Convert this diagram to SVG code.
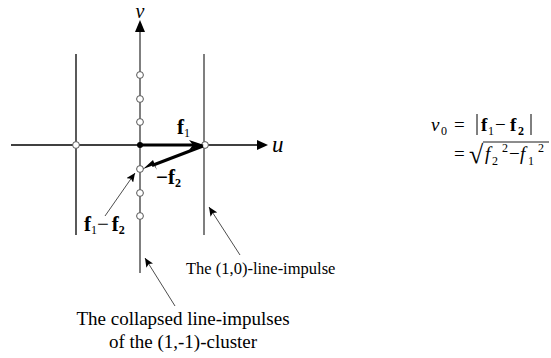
<svg xmlns="http://www.w3.org/2000/svg" width="551" height="358" viewBox="0 0 551 358">
<style>
.ax{stroke:#000;stroke-width:1.3;fill:none}
.gr{stroke:#555;stroke-width:1.5;fill:none}
.th{stroke:#000;stroke-width:0.7;fill:none}
.bold{stroke:#000;stroke-width:3;fill:none}
.pt{stroke:#555;stroke-width:1;fill:#fff}
.bar{stroke:#000;stroke-width:1}
text{font-family:"Liberation Serif","Times New Roman",serif;fill:#000}
.it{font-style:italic}
.b{font-weight:bold}
.eq{font-size:19px}
.sm{font-size:12px}
</style>
<defs>
<marker id="thin" markerWidth="10" markerHeight="8" refX="9" refY="4" orient="auto" markerUnits="userSpaceOnUse">
<path d="M0,0 L9,4 L0,8 L2,4 Z" fill="#000"/>
</marker>
</defs>
<rect width="551" height="358" fill="#fff"/>
<g id="axes">
<line class="ax" x1="11" y1="145" x2="258" y2="145"/>
<polygon points="257,140 268,145 257,150" fill="#000"/>
<line class="gr" x1="140" y1="273" x2="140" y2="30"/>
<polygon points="135,32 140,20 145,32" fill="#000"/>
<text class="it" x="140" y="18" font-size="20" text-anchor="middle">v</text>
<text class="it" x="272" y="152" font-size="23">u</text>
</g>
<g id="line-left"><line class="ax" x1="76" y1="54" x2="76" y2="235"/></g>
<g id="line-right"><line class="gr" x1="204" y1="54" x2="204" y2="235"/></g>
<g id="points">
<circle class="pt" cx="140" cy="75" r="3.4"/>
<circle class="pt" cx="140" cy="99" r="3.4"/>
<circle class="pt" cx="140" cy="122" r="3.4"/>
<circle class="pt" cx="140" cy="169" r="3.4"/>
<circle class="pt" cx="140" cy="193" r="3.4"/>
<circle class="pt" cx="140" cy="216" r="3.4"/>
<circle class="pt" cx="76" cy="145" r="3.4"/>
<circle class="pt" cx="205" cy="145" r="3.4"/>
<circle cx="140" cy="145" r="3" fill="#000"/>
</g>
<g id="connectors">
<line class="bold" x1="140" y1="145" x2="194" y2="145"/>
<polygon points="189,140 204,145 189,150 193,145" fill="#000"/>
<line class="bold" x1="203" y1="146" x2="152" y2="165.5"/>
<polygon points="143,169 153,160 157,170 154,165" fill="#000"/>
<line class="th" x1="105" y1="216" x2="135" y2="173" marker-end="url(#thin)"/>
<line class="th" x1="240" y1="255" x2="209" y2="207" marker-end="url(#thin)"/>
<line class="th" x1="175" y1="306" x2="145" y2="258" marker-end="url(#thin)"/>
</g>
<g id="vec-labels">
<text class="b" x="177" y="134" font-size="21">f<tspan class="sm" font-weight="normal" dy="3">1</tspan></text>
<text class="b" x="156" y="184" font-size="21">−f<tspan class="sm" dy="3">2</tspan></text>
<text x="84" y="231" font-size="21"><tspan class="b">f</tspan><tspan class="sm" dy="3">1</tspan><tspan dy="-3">−</tspan><tspan class="b" dx="3">f</tspan><tspan class="sm" font-weight="bold" dy="3">2</tspan></text>
</g>
<g id="label-10"><text x="186" y="274" font-size="16.5">The (1,0)-line-impulse</text></g>
<g id="label-cluster">
<text x="183" y="325" font-size="19" text-anchor="middle">The collapsed line-impulses</text>
<text x="183" y="348" font-size="19" text-anchor="middle">of the (1,-1)-cluster</text>
</g>
<g id="equation">
<text class="eq it" x="431" y="131">v</text>
<text class="sm" x="441" y="135">0</text>
<text class="eq" x="454" y="131">=</text>
<line class="bar" x1="477" y1="114" x2="477" y2="135"/>
<text class="eq b" x="481" y="131">f</text>
<text class="sm" x="488" y="135">1</text>
<text class="eq" x="495" y="131">−</text>
<text class="eq b" x="510" y="131">f</text>
<text class="sm" font-weight="bold" x="518" y="135">2</text>
<line class="bar" x1="531" y1="114" x2="531" y2="135"/>
<text class="eq" x="454" y="160">=</text>
<text x="469" y="163" font-size="26" font-weight="bold">√</text>
<line x1="483" y1="142" x2="549" y2="142" stroke="#000" stroke-width="0.9"/>
<text class="eq it" x="485" y="160">f</text>
<text class="sm" x="492" y="165">2</text>
<text class="sm" x="502" y="152">2</text>
<text class="eq" x="509" y="160">−</text>
<text class="eq it" x="520" y="160">f</text>
<text class="sm" x="528" y="165">1</text>
<text class="sm" x="538" y="152">2</text>
</g>
</svg>
